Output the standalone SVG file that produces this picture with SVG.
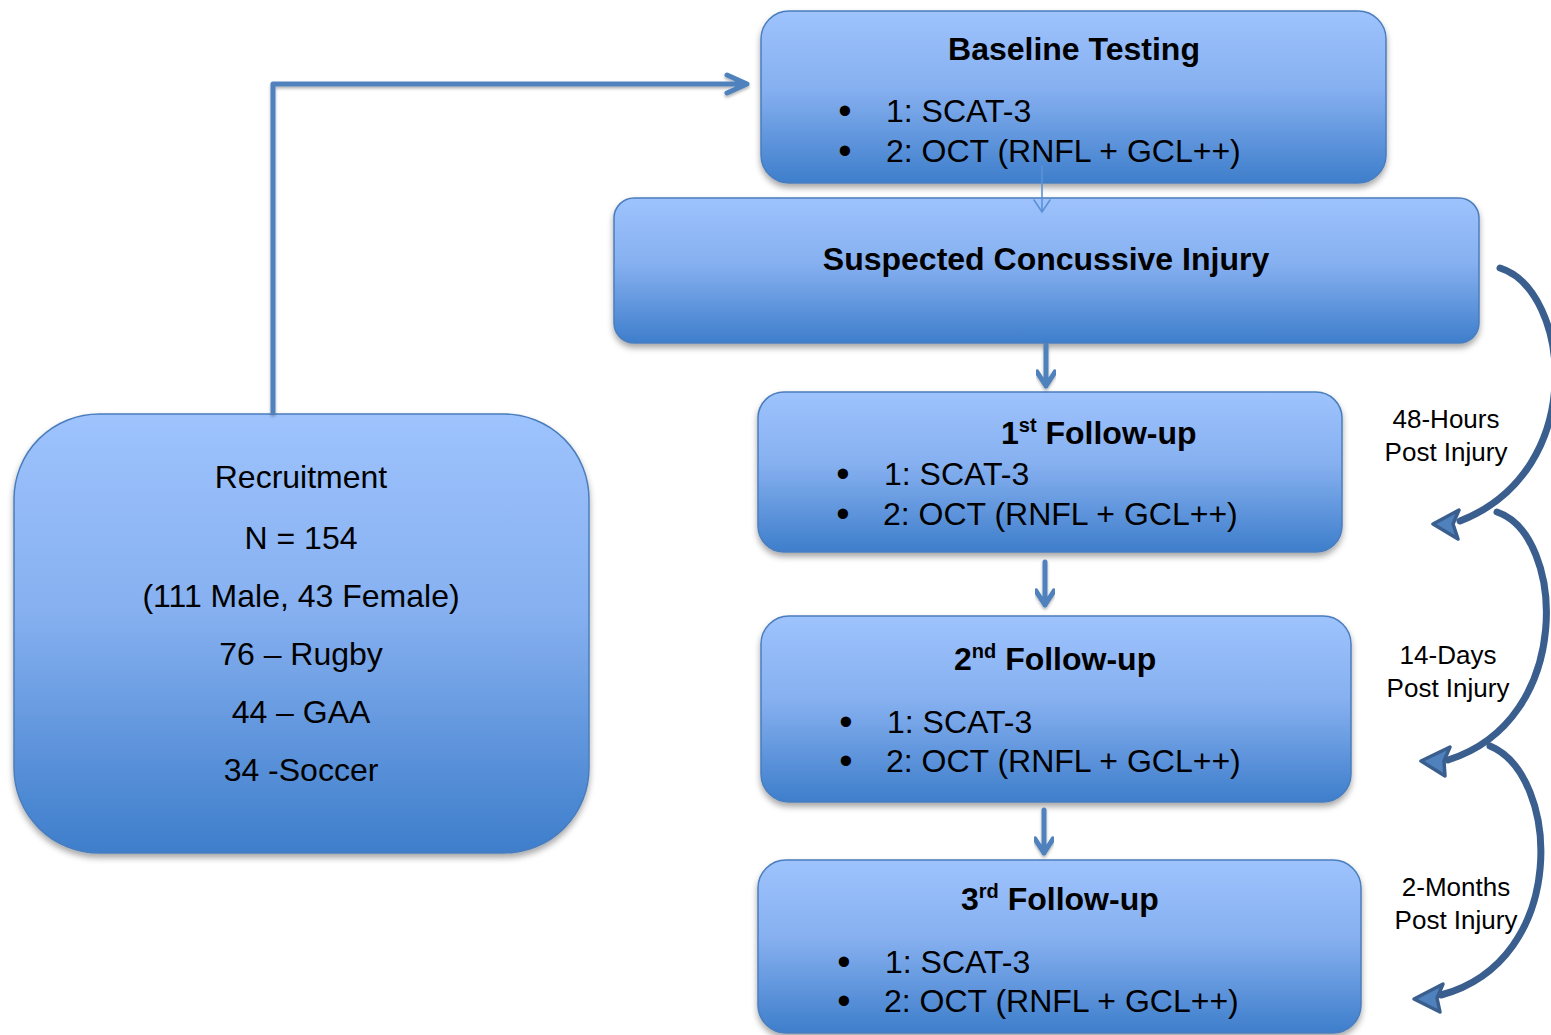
<svg xmlns="http://www.w3.org/2000/svg" width="1551" height="1035" viewBox="0 0 1551 1035">
  <defs>
    <linearGradient id="boxFill" x1="0" y1="0" x2="0" y2="1">
      <stop offset="0" stop-color="#9ec3fd"/>
      <stop offset="0.45" stop-color="#86b0f0"/>
      <stop offset="1" stop-color="#3e7ecb"/>
    </linearGradient>
    <filter id="shadow" x="-10%" y="-10%" width="120%" height="130%">
      <feDropShadow dx="0" dy="4" stdDeviation="3" flood-color="#000" flood-opacity="0.35"/>
    </filter>
    <filter id="lineShadow" x="-5%" y="-20%" width="110%" height="140%">
      <feDropShadow dx="0" dy="2" stdDeviation="1.5" flood-color="#000" flood-opacity="0.3"/>
    </filter>
  </defs>
  <style>
    .box { fill: url(#boxFill); stroke: #4a7dbd; stroke-width: 1.5; filter: url(#shadow); }
    text { font-family: "Liberation Sans", Arial, sans-serif; fill: #000; }
    .title { font-size: 32px; font-weight: bold; }
    .item { font-size: 32px; }
    .dot { font-size: 38px; text-anchor: middle; }
    .mid { text-anchor: middle; }
    .side { font-size: 26px; text-anchor: middle; }
    .flow { fill: none; stroke: #4f81bd; stroke-width: 5; stroke-linecap: round; stroke-linejoin: round; filter: url(#lineShadow); }
    .thin { fill: none; stroke: #5b92d6; stroke-width: 1.6; stroke-linecap: round; }
    .arc { fill: none; stroke: #3a5f8e; stroke-width: 7; stroke-linecap: round; }
    .head { fill: #4f81bd; stroke: #3a5f8e; stroke-width: 3.5; stroke-linejoin: round; }
  </style>

  <g id="recruitment">
    <rect class="box" x="14" y="414" width="575" height="439" rx="85" ry="85"/>
    <text class="item mid" x="301" y="488">Recruitment</text>
    <text class="item mid" x="301" y="549">N = 154</text>
    <text class="item mid" x="301" y="607">(111 Male, 43 Female)</text>
    <text class="item mid" x="301" y="665">76 – Rugby</text>
    <text class="item mid" x="301" y="723">44 – GAA</text>
    <text class="item mid" x="301" y="781">34 -Soccer</text>
  </g>

  <g id="baseline">
    <rect class="box" x="761" y="11" width="625" height="172" rx="28" ry="28"/>
    <text class="title mid" x="1074" y="60">Baseline Testing</text>
    <text class="dot" x="845" y="124">•</text>
    <text class="item" x="886" y="122">1: SCAT-3</text>
    <text class="dot" x="845" y="164">•</text>
    <text class="item" x="886" y="162">2: OCT (RNFL + GCL++)</text>
  </g>

  <g id="injury">
    <rect class="box" x="614" y="198" width="865" height="145" rx="20" ry="20"/>
    <text class="title mid" x="1046" y="270">Suspected Concussive Injury</text>
  </g>

  <g id="followup1">
    <rect class="box" x="758" y="392" width="584" height="160" rx="26" ry="26"/>
    <text class="title" x="1001" y="444">1<tspan font-size="20" dy="-12">st</tspan><tspan dy="12"> Follow-up</tspan></text>
    <text class="dot" x="843" y="487">•</text>
    <text class="item" x="884" y="485">1: SCAT-3</text>
    <text class="dot" x="843" y="527">•</text>
    <text class="item" x="883" y="525">2: OCT (RNFL + GCL++)</text>
  </g>

  <g id="followup2">
    <rect class="box" x="761" y="616" width="590" height="186" rx="28" ry="28"/>
    <text class="title" x="954" y="670">2<tspan font-size="20" dy="-12">nd</tspan><tspan dy="12"> Follow-up</tspan></text>
    <text class="dot" x="846" y="735">•</text>
    <text class="item" x="887" y="733">1: SCAT-3</text>
    <text class="dot" x="846" y="774">•</text>
    <text class="item" x="886" y="772">2: OCT (RNFL + GCL++)</text>
  </g>

  <g id="followup3">
    <rect class="box" x="758" y="860" width="603" height="173" rx="28" ry="28"/>
    <text class="title" x="961" y="910">3<tspan font-size="20" dy="-12">rd</tspan><tspan dy="12"> Follow-up</tspan></text>
    <text class="dot" x="844" y="975">•</text>
    <text class="item" x="885" y="973">1: SCAT-3</text>
    <text class="dot" x="844" y="1014">•</text>
    <text class="item" x="884" y="1012">2: OCT (RNFL + GCL++)</text>
  </g>

  <g id="intervals">
    <text class="side" x="1446" y="428">48-Hours</text>
    <text class="side" x="1446" y="461">Post Injury</text>
    <text class="side" x="1448" y="664">14-Days</text>
    <text class="side" x="1448" y="697">Post Injury</text>
    <text class="side" x="1456" y="896">2-Months</text>
    <text class="side" x="1456" y="929">Post Injury</text>
  </g>

  <g id="connectors">
    <!-- recruitment to baseline testing -->
    <path class="flow" d="M273,412 V84 H746 M727,75 L747,84 L727,93"/>
    <!-- baseline testing to suspected injury -->
    <path class="thin" d="M1042,166 V212 M1034,200 L1042,212 L1050,200"/>
    <!-- suspected injury to follow-ups -->
    <path class="flow" d="M1046,345 V386 M1037,372 L1046,386 L1055,372"/>
    <path class="flow" d="M1045,562 V605 M1036,591 L1045,605 L1054,591"/>
    <path class="flow" d="M1044,810 V853 M1035,839 L1044,853 L1053,839"/>

    <!-- timeline arcs -->
    <path class="arc" d="M1500,268 C1570,290 1590,470 1460,521"/>
    <polygon class="head" points="1433,524 1459,510 1453,524 1458,539"/>
    <path class="arc" d="M1497,512 C1565,535 1575,720 1448,760"/>
    <polygon class="head" points="1421,761 1450,747 1444,761 1445,776"/>
    <path class="arc" d="M1490,746 C1560,775 1570,960 1441,995"/>
    <polygon class="head" points="1414,999 1443,984 1437,998 1440,1012"/>
  </g>
</svg>
